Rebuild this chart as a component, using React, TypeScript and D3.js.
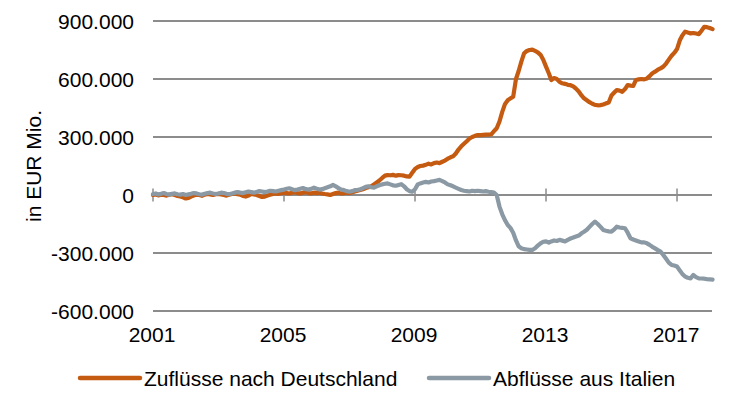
import React from "react";
import * as d3 from "d3";

// Monthly values in EUR bn (Mrd.), Jan 2001 .. Feb 2018
const startYear = 2001;
const germany: number[] = [
  // 2001
  0, 3, -2, 2, 0, -3, 1, 4, 0, -5, -8, -12,
  // 2002
  -18, -15, -8, -3, 2, 0, -4, 2, 5, 3, 0, 4,
  // 2003
  6, 3, 0, -3, 2, 5, 8, 4, 2, -5, -8, -3,
  // 2004
  5, 3, 0, -5, -10, -8, -3, 2, 5, 8, 6, 10,
  // 2005
  12, 10, 8, 12, 15, 10, 8, 12, 15, 10, 8, 12,
  // 2006
  10, 12, 8, 5, 3, 0, 5, 10, 12, 8, 10, 12,
  // 2007
  10, 14, 18, 22, 26, 30, 36, 40, 45, 55, 65, 75,
  // 2008
  88, 100, 103, 102, 104, 100, 103, 102, 100, 96, 95, 115,
  // 2009
  135, 145, 150, 152, 156, 162, 158, 165, 168, 165, 172, 178,
  // 2010
  188, 195, 200, 215, 235, 252, 265, 278, 292, 300, 306, 310,
  // 2011
  310, 311, 312, 312, 314, 330, 345, 380, 430, 470, 490, 500,
  // 2012
  508, 600, 640, 690, 733, 745, 750, 752, 745, 738, 725, 700,
  // 2013
  664, 630, 595, 605, 600, 585, 578, 575, 570, 568, 562, 550,
  // 2014
  535, 515, 500, 490, 480, 472, 466, 464, 465, 468, 474, 478,
  // 2015
  515, 530, 543, 540, 534, 548, 569, 566, 564, 595, 598, 600,
  // 2016
  598, 603, 615, 630, 638, 648, 655, 664, 680, 700, 720, 735,
  // 2017
  755, 800, 825, 845, 840, 836, 838, 835, 832, 850, 870, 868,
  // 2018
  864, 858,
];

const italy: number[] = [
  // 2001
  5, 8, 3, 6, 10, 5, 2, 6, 8, 4, 2, 5,
  // 2002
  0, 3, 6, 10, 8, 4, 2, 6, 10, 12, 8, 5,
  // 2003
  8, 12, 10, 6, 4, 8, 12, 15, 12, 10, 14, 18,
  // 2004
  15, 12, 16, 20, 18, 15, 18, 22, 20, 18, 22, 25,
  // 2005
  28, 32, 35, 30, 25, 28, 32, 36, 30, 28, 32, 38,
  // 2006
  32, 28, 30, 35, 40, 45, 52, 45, 35, 28, 25, 20,
  // 2007
  17, 20, 25, 26, 30, 35, 42, 45, 40, 38, 45, 50,
  // 2008
  55, 58, 60, 55, 50, 48, 52, 56, 45, 30, 20, 17,
  // 2009
  30, 55, 60, 65, 68, 65, 70, 72, 75, 78, 72, 65,
  // 2010
  55, 50, 45, 38, 32, 26, 22, 20, 18, 22, 20, 22,
  // 2011
  20, 18, 20, 17, 15, 12, 0, -60, -100, -130, -155, -170,
  // 2012
  -195, -235, -265, -275, -280, -282, -284, -284, -275, -262, -250, -242,
  // 2013
  -240, -246, -240, -235, -238, -232, -236, -240, -232, -225, -220, -215,
  // 2014
  -210, -198, -190, -180, -165, -150, -138, -150, -165, -181, -185, -188,
  // 2015
  -190, -178, -164, -168, -170, -172, -195, -224, -230, -235, -240, -245,
  // 2016
  -245, -250, -258, -268, -276, -285, -293, -310, -330, -350, -362, -365,
  // 2017
  -370, -390, -408, -422, -428, -431, -414, -425, -431, -432, -433, -435,
  // 2018
  -436, -438,
];

const yTicks = [-600000, -300000, 0, 300000, 600000, 900000];
const xTickYears = [2001, 2005, 2009, 2013, 2017];
const seriesNames = ["Zuflüsse nach Deutschland", "Abflüsse aus Italien"];
const seriesColors = ["#C55A11", "#8A99A3"];
const yLabel = "in EUR Mio.";

const W = 729;
const H = 399;
const FONT = "'Liberation Sans', Arial, sans-serif";
const FS = 21;

function fmt(v: number): string {
  const s = Math.abs(v)
    .toString()
    .replace(/\B(?=(\d{3})+(?!\d))/g, ".");
  return (v < 0 ? "-" : "") + s;
}

export default function App() {
  const x = d3
    .scaleTime()
    .domain([new Date(2001, 0, 1), new Date(2018, 0, 1)])
    .range([153, 709.75]);
  const y = d3.scaleLinear().domain([-600000, 900000]).range([311, 21]);

  const toPts = (arr: number[]) =>
    arr.map((v, i) => ({ d: new Date(startYear, i, 1), v: v * 1000 }));

  const line = d3
    .line<{ d: Date; v: number }>()
    .x((p) => x(p.d))
    .y((p) => y(p.v));

  const series = [germany, italy];
  const xLeft = 153;
  const xRight = 712;

  return (
    <svg
      width={W}
      height={H}
      style={{ position: "absolute", left: 0, top: 0, background: "#fff" }}
      fontFamily={FONT}
    >
      {/* gridlines */}
      {yTicks.map((t) => (
        <line
          key={t}
          x1={xLeft}
          x2={xRight}
          y1={y(t)}
          y2={y(t)}
          stroke="#8c8c8c"
          strokeWidth={2}
        />
      ))}
      {/* x tick marks on zero line */}
      {xTickYears.map((yr) => (
        <line
          key={yr}
          x1={x(new Date(yr, 0, 1))}
          x2={x(new Date(yr, 0, 1))}
          y1={y(0) - 6.5}
          y2={y(0) + 6.5}
          stroke="#8c8c8c"
          strokeWidth={1.5}
        />
      ))}
      {/* y tick labels */}
      {yTicks.map((t) => (
        <text
          key={t}
          x={134}
          y={y(t) + 7.5}
          textAnchor="end"
          fontSize={FS}
          fill="#000"
        >
          {fmt(t)}
        </text>
      ))}
      {/* x tick labels */}
      {xTickYears.map((yr) => (
        <text
          key={yr}
          x={x(new Date(yr, 0, 1)) - 1}
          y={342}
          textAnchor="middle"
          fontSize={FS}
          fill="#000"
        >
          {yr}
        </text>
      ))}
      {/* y axis label */}
      <text
        transform={`translate(41, ${(y(900000) + y(-600000)) / 2}) rotate(-90)`}
        textAnchor="middle"
        fontSize={FS}
        fill="#000"
      >
        {yLabel}
      </text>
      {/* series lines */}
      {series.map((s, i) => (
        <path
          key={i}
          d={line(toPts(s)) || ""}
          fill="none"
          stroke={seriesColors[i]}
          strokeWidth={4.2}
          strokeLinejoin="round"
          strokeLinecap="round"
        />
      ))}
      {/* legend */}
      {seriesNames.map((n, i) => {
        const lx = i === 0 ? 80 : 429;
        return (
          <g key={n}>
            <line
              x1={lx}
              x2={lx + 60}
              y1={378}
              y2={378}
              stroke={seriesColors[i]}
              strokeWidth={4.5}
              strokeLinecap="round"
            />
            <text x={lx + 64} y={385.5} fontSize={FS} fill="#000">
              {n}
            </text>
          </g>
        );
      })}
    </svg>
  );
}
